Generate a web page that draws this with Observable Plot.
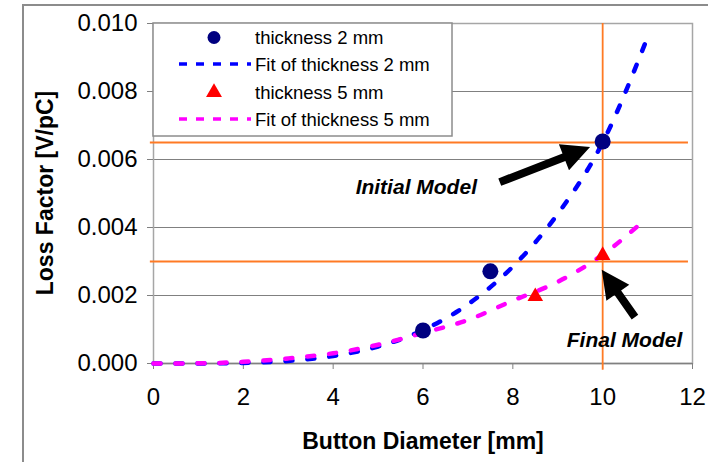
<!DOCTYPE html>
<html><head><meta charset="utf-8">
<script src="https://cdn.jsdelivr.net/npm/d3@7"></script>
<script src="https://cdn.jsdelivr.net/npm/@observablehq/plot@0.6"></script>
<style>
body{margin:0;background:#fff;font-family:Arial,"Liberation Sans",sans-serif;}
#wrap{position:relative;width:708px;height:462px;overflow:hidden;background:#fff;}
#frame{position:absolute;left:22px;top:4px;width:740px;height:500px;border:2px solid #8c8c8c;box-sizing:border-box;}
#chart{position:absolute;left:0;top:0;}
.lab{position:absolute;font-weight:bold;font-size:23px;color:#000;white-space:nowrap;}
#ylab{left:45px;top:193px;transform:translate(-50%,-50%) rotate(-90deg);}
#xlab{left:423px;top:441px;transform:translate(-50%,-50%);}
#legend{position:absolute;left:0;top:0;}
</style></head><body>
<div id="wrap"><div id="frame"></div><div id="chart"></div><svg id="legend" width="708" height="462"></svg>
<div class="lab" id="ylab"></div><div class="lab" id="xlab"></div></div>
<script>
// measured points
const x2mm = [6, 7.5, 10];
const y2mm = [0.00097, 0.00271, 0.00653];
const x5mm = [8.5, 10];
const y5mm = [0.00197, 0.00318];
// fitted curves
const fitX = [0, 1, 2, 3, 4, 5, 6, 7, 8, 9, 10, 11];
const fit2mm = [0, 0.000002, 0.000017, 0.000075, 0.00022, 0.0005, 0.00098, 0.00174, 0.00285, 0.0044, 0.0065, 0.0096];
const fit5mm = [0, 0.000005, 0.00005, 0.00015, 0.0003, 0.00055, 0.0009, 0.00128, 0.00185, 0.0024, 0.0032, 0.0043];
// reference lines
const refY = [0.0065, 0.003];
const refX = [10];
// ticks
const xTicks = [0, 2, 4, 6, 8, 10, 12];
const yTicks = [0, 0.002, 0.004, 0.006, 0.008, 0.010];
const gridY = [0.002, 0.004, 0.006, 0.008];
// annotations
const noteText = ["Initial Model", "Final Model"];
const noteX = [4.5, 9.2];
const noteY = [0.00518, 0.00068];
const arrowX1 = [7.72, 10.73];
const arrowY1 = [0.00532, 0.00135];
const arrowX2 = [9.73, 9.99];
const arrowY2 = [0.00635, 0.00274];
// legend
const legendLabels = ["thickness 2 mm", "Fit of thickness 2 mm", "thickness 5 mm", "Fit of thickness 5 mm"];
const xLabel = "Button Diameter [mm]";
const yLabel = "Loss Factor [V/pC]";

const pts2 = x2mm.map((x, i) => ({x, y: y2mm[i]}));
const pts5 = x5mm.map((x, i) => ({x, y: y5mm[i]}));
const f2 = fitX.map((x, i) => ({x, y: fit2mm[i]}));
const f5 = fitX.map((x, i) => ({x, y: fit5mm[i]}));
const notes = noteText.map((t, i) => ({t, x: noteX[i], y: noteY[i]}));

function arrowsMark(index, scales) {
  const g = d3.create("svg:g");
  for (let i = 0; i < arrowX1.length; ++i) {
    const x0 = scales.x(arrowX1[i]), y0 = scales.y(arrowY1[i]);
    const x1 = scales.x(arrowX2[i]), y1 = scales.y(arrowY2[i]);
    const L = Math.hypot(x1 - x0, y1 - y0);
    const ux = (x1 - x0) / L, uy = (y1 - y0) / L;
    const nx = -uy, ny = ux;
    const w = 4, hw = 14, hl = 28;
    const bx = x1 - ux * hl, by = y1 - uy * hl;
    const p = [
      [x0 + nx * w, y0 + ny * w], [bx + nx * w, by + ny * w], [bx + nx * hw, by + ny * hw],
      [x1, y1], [bx - nx * hw, by - ny * hw], [bx - nx * w, by - ny * w], [x0 - nx * w, y0 - ny * w]
    ];
    g.append("path").attr("d", "M" + p.map(q => q.join(",")).join("L") + "Z").attr("fill", "#000");
  }
  return g.node();
}

const font = "Arial, 'Liberation Sans', sans-serif";
const plot = Plot.plot({
  width: 708, height: 462,
  marginLeft: 153, marginRight: 16, marginTop: 23, marginBottom: 99,
  style: {fontFamily: font, fontSize: "24px", color: "#000", background: "transparent", overflow: "visible"},
  x: {domain: [0, 12]},
  y: {domain: [0, 0.01]},
  marks: [
    Plot.ruleY(gridY, {stroke: "#808080", strokeWidth: 1.2}),
    Plot.frame({stroke: "#a6a6a6", strokeWidth: 1.5}),
    Plot.ruleY([0], {stroke: "#808080", strokeWidth: 1.5}),
    Plot.axisX({ticks: xTicks, tickSize: 6, tickPadding: 18, stroke: "#808080", fill: "#000", label: null, fontSize: 24}),
    Plot.axisY({ticks: yTicks, tickFormat: d3.format(".3f"), tickSize: 6, tickPadding: 10, stroke: "#808080", fill: "#000", label: null, fontSize: 24}),
    Plot.ruleY(refY, {x1: -0.07, x2: 11.91, stroke: "#ff7a24", strokeWidth: 1.8}),
    Plot.ruleX(refX, {y1: -0.0002, y2: 0.01, stroke: "#ff7a24", strokeWidth: 1.8}),
    Plot.line(f2, {x: "x", y: "y", curve: "monotone-x", stroke: "#0000ff", strokeWidth: 4.5, strokeDasharray: "7,15"}),
    Plot.line(f5, {x: "x", y: "y", curve: "monotone-x", stroke: "#ff00ff", strokeWidth: 4.5, strokeDasharray: "7,15"}),
    Plot.dot(pts2, {x: "x", y: "y", r: 8, fill: "#000080", stroke: "none"}),
    Plot.dot(pts5, {x: "x", y: "y", r: 5.8, symbol: "triangle", fill: "#ff0000", stroke: "none"}),
    arrowsMark,
    Plot.text(notes, {x: "x", y: "y", text: "t", textAnchor: "start", fontSize: 21, fontWeight: "bold", fontStyle: "italic", fill: "#000"})
  ]
});
document.getElementById("chart").appendChild(plot);
document.getElementById("xlab").textContent = xLabel;
document.getElementById("ylab").textContent = yLabel;

// legend box
const lg = d3.select("#legend");
lg.append("rect").attr("x", 153).attr("y", 23).attr("width", 299).attr("height", 113)
  .attr("fill", "#fff").attr("stroke", "#8c8c8c").attr("stroke-width", 1.5);
const rowY = [37.5, 65, 92.5, 120];
legendLabels.forEach((t, i) => {
  const cy = rowY[i];
  if (i === 0) lg.append("circle").attr("cx", 214).attr("cy", cy).attr("r", 6.5).attr("fill", "#000080");
  if (i === 2) lg.append("path").attr("d", d3.symbol(d3.symbolTriangle, 110)()).attr("transform", `translate(214,${cy})`).attr("fill", "#ff0000");
  if (i === 1 || i === 3) lg.append("line").attr("x1", 179).attr("x2", 251).attr("y1", cy - 1).attr("y2", cy - 1)
    .attr("stroke", i === 1 ? "#0000ff" : "#ff00ff").attr("stroke-width", 3.5).attr("stroke-dasharray", "8,9");
  lg.append("text").attr("x", 255).attr("y", cy + 6).attr("font-family", font).attr("font-size", 18.5).attr("fill", "#000").text(t);
});
</script>
</body></html>
